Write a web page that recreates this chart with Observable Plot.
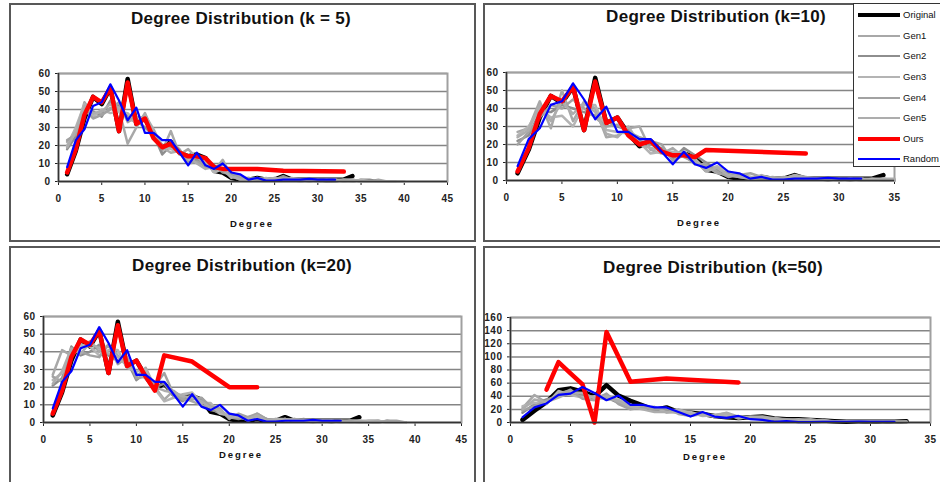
<!DOCTYPE html>
<html><head><meta charset="utf-8">
<script src="https://cdn.jsdelivr.net/npm/d3@7"></script>
<script src="https://cdn.jsdelivr.net/npm/@observablehq/plot@0.6"></script>
<style>
body{margin:0;width:940px;height:482px;overflow:hidden;background:#fff;position:relative;font-family:"Liberation Sans",Arial,sans-serif;color:#111}
.box{position:absolute;border:2px solid #585858;box-sizing:border-box}
.title{position:absolute;font-weight:bold;font-size:17px;letter-spacing:0.3px;white-space:nowrap;transform:translate(-50%,-50%)}
.xlab{position:absolute;font-weight:bold;font-size:9.5px;letter-spacing:2px;white-space:nowrap;transform:translate(-50%,-50%)}
.chart{position:absolute}
.legend{position:absolute;left:853px;top:3px;width:100px;height:164px;border:1.5px solid #333;background:#fff;box-sizing:border-box;z-index:5}
.lrow{position:absolute;left:4px;height:12px;white-space:nowrap;font-size:9.5px;font-weight:normal;letter-spacing:0}
.sw{position:absolute;left:0;width:42px}
.lt{position:absolute;left:45px;top:-6px}
</style></head>
<body>
<div id="root"></div>
<script>
// ---------- tick labels ----------
const xTicks45 = [0,5,10,15,20,25,30,35,40,45];
const xTicks35 = [0,5,10,15,20,25,30,35];
const yTicks60 = [0,10,20,30,40,50,60];
const yTicks160 = [0,20,40,60,80,100,120,140,160];
const seriesNames = ["Original","Gen1","Gen2","Gen3","Gen4","Gen5","Ours","Random"];
const titles = ["Degree Distribution (k = 5)","Degree Distribution (k=10)","Degree Distribution (k=20)","Degree Distribution (k=50)"];
const axisTitle = "Degree";

// ---------- data (value index i -> degree i+1) ----------
const original = [4,17,35,47,43,52,28,57,32,35,26,19,22,16,14,15,13,6,5,2,1,1,2,1,1,3,1,1,1,1,1,1,1,3];
const originalK50 = [4,18,31,49,52,47,40,57,41,33,26,19,23,16,15,13,10,8,7,8,9,6,5,5,4,3,2,1,1,1,1,1,2];
const random = [8,23,29,42,44,54,45,34,41,27,27,23,23,16,9,16,9,7,10,5,4,1,2,0.5,0.5,1,1,1,1.5,1,1,1];

const gen1K5 = [22,27,44,37,38,41,40,21,30,38,27,17,28,15,18,13,10,6,12,3,1,2,1,1,2,1,1,0,1,0,0,1,1,1,0,0,1,0,0,0];
const gen2K5 = [18,25,41,39,36,45,42,36,34,30,26,15,20,17,11,12,8,9,5,4,2,1,2,1,1,3,1,1,1,1,0,0,1,0,1,1,0,0,0];
const gen3K5 = [20,30,43,36,40,38,39,38,32,36,28,20,18,16,12,14,11,5,7,2,3,1,1,2,1,2,1,0,1,1,1,1,0,0,1,0];
const gen4K5 = [23,26,40,35,37,40,44,33,36,35,25,18,22,18,10,11,9,7,10,5,2,2,1,1,1,2,1,1,0,1,1,0,1,1,0,0,0,0];
const gen5K5 = [19,28,42,38,39,43,41,35,33,37,29,19,16,17,14,10,7,8,6,3,1,1,2,1,2,1,2,1,1,0,1,1,0,1,0,0,0,0,0,0];
const oursK5X = [1,2,3,4,5,6,7,8,9,10,11,12,13,14,15,16,17,18,19,20,23,26,33];
const oursK5Y = [5,18,37,47,44,52,28,55,32,35,24,19,21,16,14,14,13,8,7,7,7,6,5.5];

const gen1K10 = [27,29,44,29,50,33,44,40,24,25,29,30,17,15,18,13,10,8,4,3,2,1,1,2,1,3,2,1,1,1,1,1,0,1,0];
const gen2K10 = [22,25,38,38,42,40,38,36,33,30,28,22,20,18,12,18,14,10,6,4,3,2,1,1,1,2,1,1,0,1,0,1,1,0,0];
const gen3K10 = [25,30,40,35,36,30,42,42,28,27,26,21,15,16,16,15,12,6,8,5,3,2,2,1,1,2,1,1,1,0,1,0,1,1,0];
const gen4K10 = [20,27,35,42,40,45,40,35,30,31,27,24,22,20,11,14,9,9,5,2,3,4,2,1,2,1,1,1,1,1,1,0,0,0,0];
const gen5K10 = [24,28,42,33,44,37,43,38,26,24,30,20,18,17,14,16,11,5,7,3,2,1,3,1,1,3,1,1,1,0,1,1,0,1,1];
const oursK10X = [1,2,3,4,5,6,7,8,9,10,11,12,13,14,15,16,17,18,27];
const oursK10Y = [5,18,37,47,44,52,28,55,32,35,25,20,22,16,14,14,13,17,15];

const gen1K20 = [27,41,38,42,46,40,44,38,33,26,31,20,13,18,14,12,10,8,5,4,3,2,5,2,1,2,1,1,1,1,1,1,0,0,1,1,0,0,0];
const gen2K20 = [21,25,43,38,40,44,38,35,35,24,28,20,22,15,12,16,13,7,6,3,2,3,4,2,1,2,1,2,1,1,0,1,1,1,0,0,1,0,0];
const gen3K20 = [24,28,37,44,43,38,41,41,31,29,30,19,12,14,16,17,11,11,5,5,4,1,3,1,2,1,2,1,1,0,1,0,1,1,1,1,0,0,0];
const gen4K20 = [26,23,40,40,38,37,44,33,37,25,26,21,28,16,13,13,14,9,8,2,5,3,5,2,1,1,2,1,0,1,1,1,1,0,0,0,1,1,0];
const gen5K20 = [22,29,42,39,45,42,39,37,32,28,25,20,18,17,15,14,12,8,7,3,3,2,4,1,2,2,1,1,1,1,1,0,0,1,0,1,0,0,0];
const oursK20X = [1,2,3,4,5,6,7,8,9,10,11,12,13,16,20,23];
const oursK20Y = [5,18,37,47,44,52,28,55,32,35,26,18,38,34.5,20,20];

const gen1K50 = [22,42,30,45,48,40,38,42,33,25,24,22,18,20,14,12,10,15,9,8,9,6,4,5,4,3,2,1,1,1,0,1,1];
const gen2K50 = [15,28,35,40,44,43,36,38,30,22,25,18,20,16,12,14,8,10,8,6,7,5,5,3,4,2,2,1,1,0,1,1,1];
const gen3K50 = [25,30,28,48,42,38,40,35,35,27,22,24,15,18,16,10,11,12,7,8,6,7,4,4,3,3,1,2,1,1,1,0,1];
const gen4K50 = [18,25,33,42,50,36,34,44,28,20,23,20,22,13,10,13,9,8,9,7,5,6,5,3,5,2,2,1,0,1,1,1,0];
const gen5K50 = [20,35,31,38,46,45,37,40,32,24,20,16,16,15,13,11,12,14,6,9,8,5,3,4,3,4,1,1,1,1,1,1,1];
const oursK50X = [3,4,5,6,7,8,10,13,19];
const oursK50Y = [50,92,75,58,0,138,62,67,61];

// ---------- styling ----------
const colors = {Original:"#000000",Gen1:"#a8a8a8",Gen2:"#8e8e8e",Gen3:"#b4b4b4",Gen4:"#a2a2a2",Gen5:"#adadad",Ours:"#ff0000",Random:"#0000ff"};
const widths = {Original:4.5,Gen1:2.5,Gen2:2.5,Gen3:2.5,Gen4:2.5,Gen5:2.5,Ours:4.5,Random:2.2};

const seq = arr => arr.map((v,i)=>({x:i+1,y:v}));
const pairs = (xs,ys) => xs.map((x,i)=>({x,y:ys[i]}));

const root = document.getElementById("root");
function addDiv(cls, css, text){
  const d=document.createElement("div"); d.className=cls; Object.assign(d.style,css);
  if(text!=null) d.textContent=text; root.appendChild(d); return d;
}

// panel boxes
addDiv("box",{left:"9px",top:"3px",width:"467px",height:"239px"});
addDiv("box",{left:"483px",top:"3px",width:"470px",height:"239px"});
addDiv("box",{left:"9px",top:"246px",width:"467px",height:"250px"});
addDiv("box",{left:"483px",top:"246px",width:"470px",height:"250px"});

function panel(cfg, data){
  const marks=[
    Plot.gridY(cfg.yTicks,{stroke:"#858585",strokeOpacity:1,strokeWidth:1.5}),
    Plot.frame({stroke:"#a0a0a0",strokeWidth:2})
  ];
  seriesNames.forEach(name=>{
    marks.push(Plot.line(data[name],{x:"x",y:"y",stroke:colors[name],strokeWidth:widths[name],strokeLinejoin:"round"}));
  });
  marks.push(Plot.ruleX([0],{stroke:"#333",strokeWidth:1.5}));
  marks.push(Plot.ruleY([0],{stroke:"#333",strokeWidth:1.5}));
  const p=Plot.plot({
    width:cfg.w,height:cfg.h,marginLeft:cfg.ml,marginRight:cfg.mr,marginTop:cfg.mt,marginBottom:cfg.mb,
    x:{domain:[0,cfg.xMax],ticks:cfg.xTicks,tickSize:4,tickPadding:9,label:null,tickFormat:d=>String(d)},
    y:{domain:[0,cfg.yMax],ticks:cfg.yTicks,tickSize:3,tickPadding:5,label:null,tickFormat:d=>String(d)},
    style:{fontFamily:"Liberation Sans, Arial, sans-serif",fontSize:"10px",fontWeight:"bold",letterSpacing:"0.5px",color:"#222",background:"transparent",overflow:"visible"},
    marks
  });
  const wrap=addDiv("chart",{left:cfg.left+"px",top:cfg.top+"px"});
  wrap.appendChild(p);
  addDiv("title",{left:cfg.tx+"px",top:cfg.ty+"px"},cfg.title);
  addDiv("xlab",{left:cfg.lx+"px",top:cfg.ly+"px"},axisTitle);
}

panel({left:8,top:60,w:462,h:160,ml:50,mr:23,mt:13,mb:39,xMax:45,xTicks:xTicks45,yMax:60,yTicks:yTicks60,
  title:titles[0],tx:241,ty:19,lx:252,ly:223},
  {Original:seq(original),Gen1:seq(gen1K5),Gen2:seq(gen2K5),Gen3:seq(gen3K5),Gen4:seq(gen4K5),Gen5:seq(gen5K5),Ours:pairs(oursK5X,oursK5Y),Random:seq(random)});

panel({left:478,top:60,w:440,h:160,ml:28,mr:24,mt:12,mb:40,xMax:35,xTicks:xTicks35,yMax:60,yTicks:yTicks60,
  title:titles[1],tx:716,ty:17,lx:699,ly:222},
  {Original:seq(original),Gen1:seq(gen1K10),Gen2:seq(gen2K10),Gen3:seq(gen3K10),Gen4:seq(gen4K10),Gen5:seq(gen5K10),Ours:pairs(oursK10X,oursK10Y),Random:seq(random)});

panel({left:8,top:300,w:470,h:160,ml:35,mr:17,mt:16,mb:38,xMax:45,xTicks:xTicks45,yMax:60,yTicks:yTicks60,
  title:titles[2],tx:242,ty:266,lx:241,ly:454},
  {Original:seq(original),Gen1:seq(gen1K20),Gen2:seq(gen2K20),Gen3:seq(gen3K20),Gen4:seq(gen4K20),Gen5:seq(gen5K20),Ours:pairs(oursK20X,oursK20Y),Random:seq(random)});

panel({left:478,top:300,w:462,h:160,ml:32,mr:10,mt:17,mb:38,xMax:35,xTicks:xTicks35,yMax:160,yTicks:yTicks160,
  title:titles[3],tx:713,ty:268,lx:705,ly:456},
  {Original:seq(originalK50),Gen1:seq(gen1K50),Gen2:seq(gen2K50),Gen3:seq(gen3K50),Gen4:seq(gen4K50),Gen5:seq(gen5K50),Ours:pairs(oursK50X,oursK50Y),Random:seq(random)});

// legend
const lg=addDiv("legend",{});
const rowY=[11,32,52,73,94,114,135,155];
seriesNames.forEach((name,i)=>{
  const r=document.createElement("div"); r.className="lrow"; r.style.top=rowY[i]+"px";
  const s=document.createElement("div"); s.className="sw";
  const w=name==="Original"||name==="Ours"?4.5:2.5;
  Object.assign(s.style,{height:w+"px",top:(-w/2)+"px",background:colors[name]});
  const t=document.createElement("div"); t.className="lt"; t.textContent=name;
  r.appendChild(s); r.appendChild(t); lg.appendChild(r);
});
</script>
</body></html>
